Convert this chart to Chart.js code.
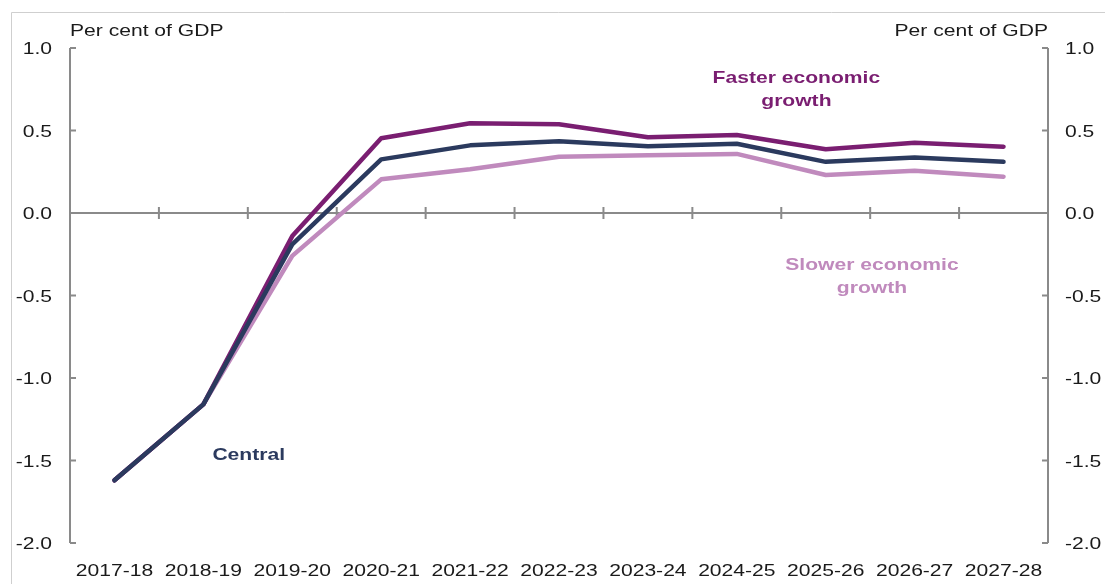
<!DOCTYPE html>
<html>
<head>
<meta charset="utf-8">
<script src="https://cdn.jsdelivr.net/npm/chart.js@4"></script>
<style>
  html, body { margin: 0; padding: 0; background: #fff; }
  #wrap { width: 1105px; height: 584px; }
</style>
</head>
<body>
<div id="wrap"><canvas id="chart" width="1105" height="584"></canvas></div>
<script>
// 회계연도별 GDP 대비 비율 (%)
const years = ["2017-18", "2018-19", "2019-20", "2020-21", "2021-22", "2022-23",
               "2023-24", "2024-25", "2025-26", "2026-27", "2027-28"];
const central = [-1.62, -1.16, -0.19, 0.325, 0.41, 0.435, 0.405, 0.42, 0.31, 0.337, 0.31];
const faster  = [-1.62, -1.16, -0.14, 0.453, 0.544, 0.538, 0.459, 0.473, 0.386, 0.426, 0.402];
const slower  = [-1.62, -1.16, -0.26, 0.204, 0.265, 0.341, 0.35, 0.358, 0.23, 0.256, 0.22];
const yTicks  = [-2.0, -1.5, -1.0, -0.5, 0.0, 0.5, 1.0];
const unitLabel = "Per cent of GDP";

const C_FAST = "#7A1E71";
const C_CENT = "#2B3A5E";
const C_SLOW = "#C08ABD";
const AXIS = "#8a8a8a";
const TXT = "#1a1a1a";
const SX = 1.24; // 글자 가로 비율

// 선 옆 라벨: idx/val 은 축 단위 위치
const notes = [
  { lines: ["Faster economic", "growth"], idx: 7.67, val: 0.79, color: C_FAST },
  { lines: ["Slower economic", "growth"], idx: 8.52, val: -0.345, color: C_SLOW },
  { lines: ["Central"], idx: 1.51, val: -1.497, color: C_CENT },
];

function wtext(ctx, s, x, y, align) {
  ctx.save();
  ctx.translate(x, y);
  ctx.scale(SX, 1);
  ctx.textAlign = align;
  ctx.textBaseline = "alphabetic";
  ctx.fillText(s, 0, 0);
  ctx.restore();
}

const frame = {
  id: "frame",
  beforeDatasetsDraw(chart) {
    const { ctx, chartArea: a, scales } = chart;
    const x = scales.x, y = scales.y;
    ctx.save();
    // 바깥 테두리
    ctx.strokeStyle = "#cfcfcf"; ctx.lineWidth = 1;
    ctx.beginPath();
    ctx.moveTo(11.5, 584); ctx.lineTo(11.5, 12.5); ctx.lineTo(1105, 12.5);
    ctx.stroke();

    ctx.strokeStyle = AXIS; ctx.lineWidth = 2; ctx.lineCap = "butt";
    // 좌우 축
    ctx.beginPath();
    ctx.moveTo(a.left, a.top); ctx.lineTo(a.left, a.bottom);
    ctx.moveTo(a.right, a.top); ctx.lineTo(a.right, a.bottom);
    // 안쪽 눈금
    yTicks.forEach(v => {
      const py = y.getPixelForValue(v);
      ctx.moveTo(a.left, py); ctx.lineTo(a.left + 6, py);
      ctx.moveTo(a.right, py); ctx.lineTo(a.right - 6, py);
    });
    // 0 기준선 + 구간 경계 눈금
    const z = y.getPixelForValue(0);
    ctx.moveTo(a.left, z); ctx.lineTo(a.right, z);
    for (let i = 1; i < years.length; i++) {
      const bx = (x.getPixelForValue(i - 1) + x.getPixelForValue(i)) / 2;
      ctx.moveTo(bx, z - 6); ctx.lineTo(bx, z + 6);
    }
    ctx.stroke();
    ctx.restore();
  },
  afterDraw(chart) {
    const { ctx, chartArea: a, scales } = chart;
    const x = scales.x, y = scales.y;
    ctx.save();
    ctx.fillStyle = TXT;
    ctx.font = "17px 'Liberation Sans', Arial, sans-serif";
    yTicks.forEach(v => {
      const py = y.getPixelForValue(v) + 6;
      wtext(ctx, v.toFixed(1), a.left - 18, py, "right");
      wtext(ctx, v.toFixed(1), a.right + 17, py, "left");
    });
    years.forEach((s, i) => wtext(ctx, s, x.getPixelForValue(i), 576, "center"));
    wtext(ctx, unitLabel, a.left, 36, "left");
    wtext(ctx, unitLabel, a.right, 36, "right");

    ctx.font = "bold 17px 'Liberation Sans', Arial, sans-serif";
    notes.forEach(n => {
      ctx.fillStyle = n.color;
      const px = x.getPixelForValue(n.idx);
      const py = y.getPixelForValue(n.val);
      n.lines.forEach((l, k) => wtext(ctx, l, px, py + k * 23, "center"));
    });
    ctx.restore();
  }
};

const line = (data, color, order) => ({
  data, borderColor: color, borderWidth: 4.5, pointRadius: 0,
  borderCapStyle: "round", borderJoinStyle: "round", tension: 0, order
});

new Chart(document.getElementById("chart"), {
  type: "line",
  data: {
    labels: years,
    datasets: [
      line(slower, C_SLOW, 3),
      line(faster, C_FAST, 2),
      line(central, C_CENT, 1),
    ]
  },
  options: {
    responsive: false,
    animation: false,
    layout: { padding: { top: 48, left: 0, right: 0, bottom: 0 } },
    plugins: { legend: { display: false }, tooltip: { enabled: false } },
    scales: {
      x: {
        offset: true,
        grid: { display: false }, border: { display: false },
        ticks: { display: false },
        afterFit: s => { s.height = 41; }
      },
      y: {
        position: "left", min: -2, max: 1,
        grid: { display: false }, border: { display: false },
        ticks: { display: false, stepSize: 0.5 },
        afterFit: s => { s.width = 70; }
      },
      y2: {
        position: "right", min: -2, max: 1,
        grid: { display: false }, border: { display: false },
        ticks: { display: false, stepSize: 0.5 },
        afterFit: s => { s.width = 57; }
      }
    }
  },
  plugins: [frame]
});
</script>
</body>
</html>
